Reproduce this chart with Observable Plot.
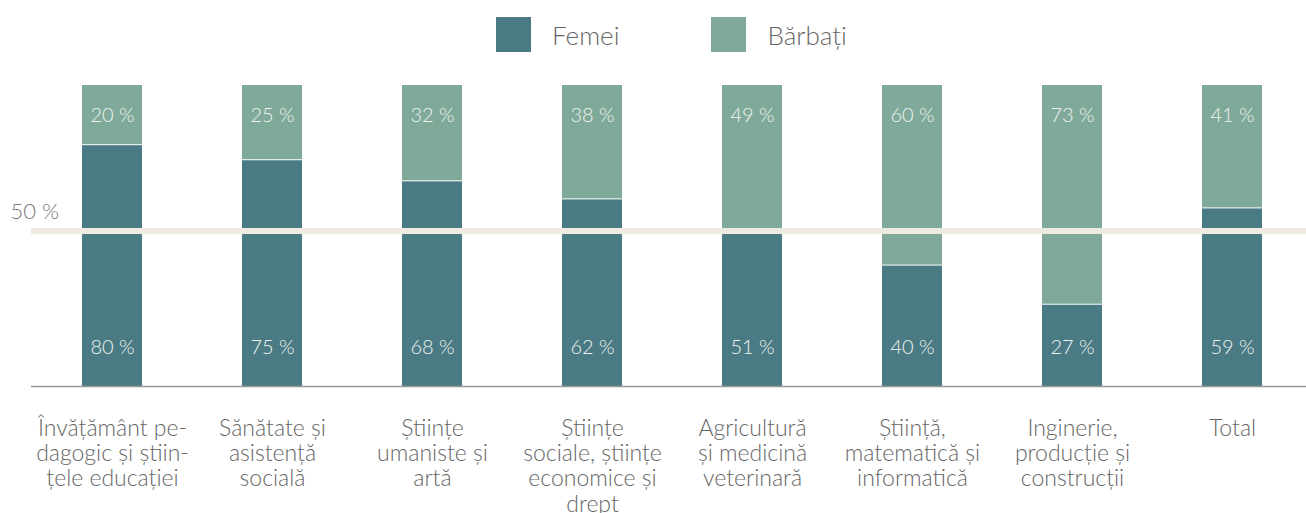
<!DOCTYPE html>
<html>
<head>
<meta charset="utf-8">
<script src="https://cdn.jsdelivr.net/npm/d3@7"></script>
<script src="https://cdn.jsdelivr.net/npm/@observablehq/plot@0.6"></script>
<style>
  html, body { margin: 0; padding: 0; background: #fff; }
  #wrap { position: relative; width: 1306px; height: 513px; overflow: hidden; font-family: Lato, "Open Sans", sans-serif; }
  #legend { position: absolute; left: 496px; top: 17px; }
  #chart { position: absolute; left: 0; top: 0; }
</style>
</head>
<body>
<div id="wrap"><div id="chart"></div><div id="legend"></div></div>
<script>
const categories = [
  "Învățământ pe-\ndagogic și știin-\nțele educației",
  "Sănătate și\nasistență\nsocială",
  "Științe\numaniste și\nartă",
  "Științe\nsociale, științe\neconomice și\ndrept",
  "Agricultură\nși medicină\nveterinară",
  "Știință,\nmatematică și\ninformatică",
  "Inginerie,\nproducție și\nconstrucții",
  "Total"
];
const femei = [80, 75, 68, 62, 51, 40, 27, 59];
const barbati = [20, 25, 32, 38, 49, 60, 73, 41];
const seriesNames = ["Femei", "Bărbați"];
const seriesColors = ["#4a7b84", "#7faa9a"];
const refLine = 50;

const rows = [];
categories.forEach((c, i) => {
  rows.push({cat: c, series: "Femei", value: femei[i]});
  rows.push({cat: c, series: "Bărbați", value: barbati[i]});
});
const fem = rows.filter(d => d.series === "Femei");
const bar = rows.filter(d => d.series === "Bărbați");

const chart = Plot.plot({
  width: 1306,
  height: 513,
  marginTop: 85,
  marginBottom: 127,
  marginLeft: 31,
  marginRight: 0,
  style: {fontFamily: "Lato, 'Open Sans', sans-serif", background: "transparent"},
  x: {domain: categories, range: [32, 1312], paddingInner: 0.625, paddingOuter: 0.3125, label: null},
  y: {domain: [0, 100], range: [386, 85], axis: null},
  color: {domain: seriesNames, range: seriesColors},
  marks: [
    Plot.barY(fem, {x: "cat", y1: 0, y2: "value", fill: "series"}),
    Plot.barY(bar, {x: "cat", y1: d => 100 - d.value, y2: 100, fill: "series", insetBottom: 1}),
    Plot.ruleY([0], {stroke: "#999", strokeWidth: 1.5}),
    Plot.ruleY([refLine], {stroke: "#efebe0", strokeWidth: 6, dy: -5}),
    Plot.text([refLine], {y: d => d, frameAnchor: "left", text: d => `${d} %`, textAnchor: "start", dx: -21, dy: -24, fontSize: 22, fill: "#777", fontWeight: 300}),
    Plot.text(bar, {x: "cat", y: () => 90, text: d => `${d.value} %`, fill: "#eef2ef", fontSize: 20, fontWeight: 300}),
    Plot.text(fem, {x: "cat", y: () => 13, text: d => `${d.value} %`, fill: "#eef2ef", fontSize: 20, fontWeight: 300}),
    Plot.axisX({tickSize: 0, tickPadding: 32, fontSize: 23, lineHeight: 1.09, fill: "#666", fontWeight: 300, label: null})
  ]
});
document.getElementById("chart").appendChild(chart);

const legend = Plot.legend({color: {domain: seriesNames, range: seriesColors}, legend: "swatches", swatchSize: 35, style: {fontFamily: "Lato, 'Open Sans', sans-serif", fontSize: "26px", color: "#666", fontWeight: 300}});
legend.style.margin = "0";
legend.style.minHeight = "35px";
legend.querySelectorAll("span").forEach((s, i) => {
  s.style.marginRight = i === 0 ? "92px" : "0px";
  const sv = s.querySelector("svg");
  if (sv) sv.style.marginRight = "21px";
});
document.getElementById("legend").appendChild(legend);
</script>
</body>
</html>
